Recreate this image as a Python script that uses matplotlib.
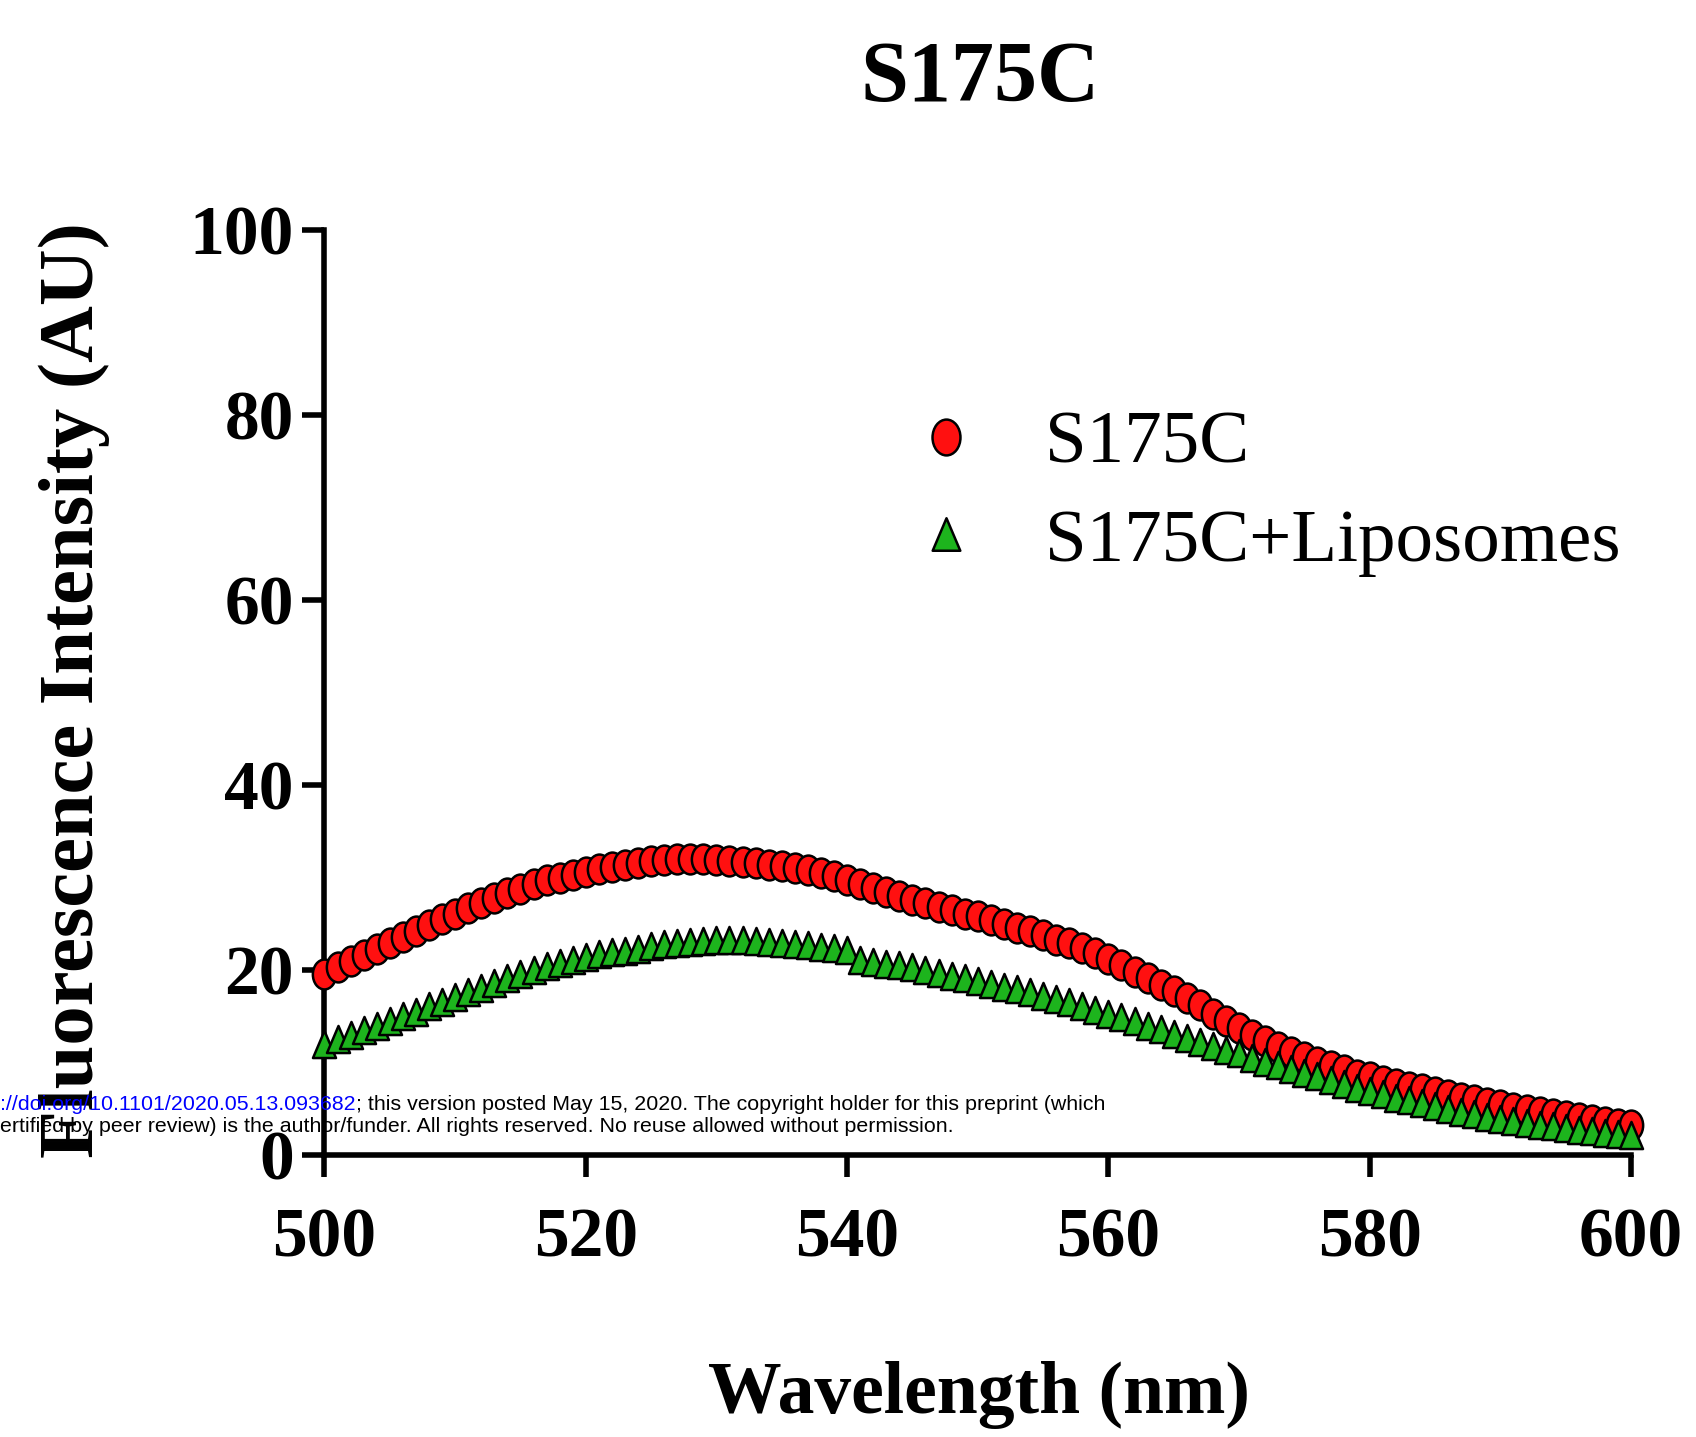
import matplotlib
matplotlib.use("Agg")
import matplotlib.pyplot as plt
from matplotlib.path import Path
from matplotlib.transforms import Affine2D
from matplotlib.lines import Line2D

wavelength = list(range(500, 601))

s175c = [19.6, 20.3, 21.0, 21.6, 22.3, 22.9, 23.6, 24.2, 24.9, 25.5, 26.1,
         26.7, 27.2, 27.8, 28.3, 28.8, 29.3, 29.7, 30.0, 30.3, 30.6,
         30.9, 31.1, 31.4, 31.6, 31.8, 31.9, 32.0, 32.0, 32.0, 31.9,
         31.8, 31.7, 31.6, 31.4, 31.3, 31.0, 30.8, 30.5, 30.2, 29.7,
         29.3, 28.9, 28.4, 28.0, 27.6, 27.2, 26.8, 26.5, 26.1, 25.8,
         25.4, 25.0, 24.6, 24.2, 23.8, 23.3, 22.9, 22.4, 21.8, 21.2,
         20.5, 19.8, 19.1, 18.4, 17.7, 17.0, 16.2, 15.3, 14.5, 13.7,
         13.0, 12.3, 11.7, 11.1, 10.6, 10.1, 9.6, 9.2, 8.7, 8.4,
         8.0, 7.7, 7.4, 7.1, 6.8, 6.5, 6.2, 5.9, 5.6, 5.4,
         5.1, 4.9, 4.7, 4.4, 4.2, 4.0, 3.8, 3.6, 3.4, 3.3]

s175c_lipo = [12.0, 12.5, 13.0, 13.5, 14.0, 14.5, 15.0, 15.5, 16.1, 16.6, 17.1,
              17.6, 18.1, 18.6, 19.1, 19.6, 20.0, 20.4, 20.8, 21.1, 21.4,
              21.7, 21.9, 22.1, 22.3, 22.6, 22.8, 22.9, 23.0, 23.1, 23.2,
              23.2, 23.2, 23.1, 23.0, 22.9, 22.8, 22.7, 22.5, 22.4, 22.2,
              21.1, 20.9, 20.7, 20.5, 20.3, 20.0, 19.7, 19.4, 19.1, 18.8,
              18.5, 18.2, 17.9, 17.6, 17.2, 16.9, 16.5, 16.1, 15.7, 15.3,
              14.9, 14.5, 14.0, 13.6, 13.1, 12.7, 12.2, 11.8, 11.4, 11.0,
              10.5, 10.1, 9.7, 9.3, 8.9, 8.5, 8.1, 7.7, 7.3, 6.9,
              6.6, 6.2, 5.9, 5.6, 5.3, 5.0, 4.7, 4.4, 4.1, 3.9,
              3.7, 3.5, 3.3, 3.1, 2.9, 2.7, 2.6, 2.4, 2.3, 2.2]

labels = ["S175C", "S175C+Liposomes"]
xticks = [500, 520, 540, 560, 580, 600]
yticks = [0, 20, 40, 60, 80, 100]

serif = ["Liberation Serif", "DejaVu Serif"]
sans = ["Liberation Sans", "DejaVu Sans"]

# slightly squashed markers, like the original
ellipse = Path.unit_circle().transformed(Affine2D().scale(0.78, 1.0))
tri = Path([(0, 1), (-0.85, -1), (0.85, -1), (0, 1)],
           [Path.MOVETO, Path.LINETO, Path.LINETO, Path.CLOSEPOLY])

fig = plt.figure(figsize=(16.96, 14.37), dpi=100)
ax = fig.add_axes([0.1913, 0.1962, 0.7704, 0.6437])

ax.plot(wavelength, s175c, linestyle="none", marker=ellipse, markersize=21.5,
        markerfacecolor="#ff1010", markeredgecolor="black", markeredgewidth=1.8,
        clip_on=False, zorder=3)
ax.plot(wavelength, s175c_lipo, linestyle="none", marker=tri, markersize=19.5,
        markerfacecolor="#1db41d", markeredgecolor="black", markeredgewidth=1.8,
        clip_on=False, zorder=3)

ax.set_xlim(500, 600)
ax.set_ylim(0, 100)
ax.set_xticks(xticks)
ax.set_yticks(yticks)
for s in ["top", "right"]:
    ax.spines[s].set_visible(False)
for s in ["left", "bottom"]:
    ax.spines[s].set_linewidth(4.0)
ax.tick_params(axis="both", width=4.0, length=16)
ax.tick_params(axis="x", pad=22)
ax.tick_params(axis="y", pad=6)
for lab in ax.get_xticklabels() + ax.get_yticklabels():
    lab.set_family(serif)
    lab.set_fontweight("bold")
    lab.set_fontsize(50)

handles = [
    Line2D([], [], linestyle="none", marker=ellipse, markersize=21.5,
           markerfacecolor="#ff1010", markeredgecolor="black", markeredgewidth=1.8),
    Line2D([], [], linestyle="none", marker=tri, markersize=19.5,
           markerfacecolor="#1db41d", markeredgecolor="black", markeredgewidth=1.8),
]
ax.legend(handles, labels, loc="upper left", bbox_to_anchor=(0.447, 0.805),
          frameon=False, prop={"family": serif, "size": 54},
          handlelength=1.0, handletextpad=0.82, labelspacing=0.39,
          borderpad=0, borderaxespad=0, markerscale=1.2)

fig.text(0.578, 0.944, "S175C", ha="center", va="center",
         family=serif, fontweight="bold", fontsize=62)
fig.text(0.577, 0.029, "Wavelength (nm)", ha="center", va="center",
         family=serif, fontweight="bold", fontsize=53)
fig.text(0.0436, 0.52, "Fluorescence Intensity (AU)", ha="center", va="center",
         rotation=90, family=serif, fontweight="bold", fontsize=56.5)

# bioRxiv watermark lines
t1 = fig.text(0.0, 1 - 1110 / 1437, "://doi.org/10.1101/2020.05.13.093682",
              color="blue", family=sans, fontsize=15.4, ha="left", va="baseline")
ax.annotate("; this version posted May 15, 2020. The copyright holder for this preprint (which",
            xy=(1, 0), xycoords=t1, va="bottom", ha="left",
            family=sans, fontsize=15.4, color="black", annotation_clip=False)
fig.text(0.0, 1 - 1132 / 1437,
         "ertified by peer review) is the author/funder. All rights reserved. No reuse allowed without permission.",
         color="black", family=sans, fontsize=15.4, ha="left", va="baseline")

fig.savefig("out.png", dpi=100)
